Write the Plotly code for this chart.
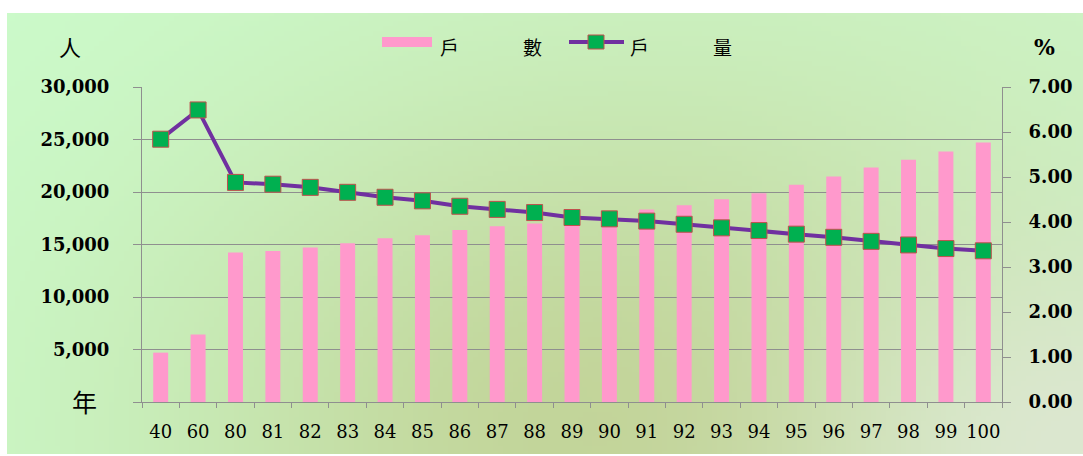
import base64
import struct
import zlib

import numpy as np
import plotly.graph_objects as go

# ---------------- data ----------------
years = ["40", "60", "80", "81", "82", "83", "84", "85", "86", "87", "88", "89",
         "90", "91", "92", "93", "94", "95", "96", "97", "98", "99", "100"]
households = [4700, 6420, 14230, 14390, 14710, 15130, 15600, 15890, 16370, 16750,
              17010, 17400, 17850, 18340, 18750, 19320, 19890, 20680, 21470, 22330,
              23070, 23860, 24720]
household_size = [5.84, 6.49, 4.88, 4.84, 4.77, 4.66, 4.55, 4.47, 4.35, 4.28, 4.21,
                  4.10, 4.07, 4.02, 3.95, 3.87, 3.81, 3.73, 3.66, 3.57, 3.49, 3.41, 3.36]
left_ticks = [0, 5000, 10000, 15000, 20000, 25000, 30000]
left_labels = ["", "5,000", "10,000", "15,000", "20,000", "25,000", "30,000"]
right_ticks = [0, 1, 2, 3, 4, 5, 6, 7]
right_labels = ["0.00", "1.00", "2.00", "3.00", "4.00", "5.00", "6.00", "7.00"]

# ---------------- geometry ----------------
W, H = 1083, 456
L, R, T, B = 142, 1002, 87, 402


def px(x):
    return (x - L) / (R - L)


def py(y):
    return (B - y) / (B - T)


# ---------------- gradient background (png) ----------------
def gradient_png(w, h):
    u = np.linspace(0, 1, w)[None, :]
    v = np.linspace(0, 1, h)[:, None]
    top_l = np.array([204, 252, 204], float)
    top_r = np.array([206, 246, 200], float)
    base = top_l[None, None, :] * (1 - u[..., None]) + top_r[None, None, :] * u[..., None]
    base = np.broadcast_to(base, (h, w, 3)).copy()
    inner = np.array([194, 212, 152], float)
    wgt = np.exp(-((u - 0.58) / 0.45) ** 2 - ((v - 0.95) / 0.8) ** 2)[..., None]
    col = base * (1 - wgt) + inner * wgt
    grey = np.array([220, 232, 208], float)
    wg = np.exp(-((u - 1.0) / 0.25) ** 2 - ((v - 1.0) / 0.5) ** 2)[..., None]
    col = col * (1 - wg) + grey * wg
    col = np.clip(col, 0, 255).astype(np.uint8)
    raw = b"".join(b"\x00" + col[i].tobytes() for i in range(h))

    def chunk(tag, data):
        c = struct.pack(">I", len(data)) + tag + data
        return c + struct.pack(">I", zlib.crc32(tag + data) & 0xFFFFFFFF)

    png = b"\x89PNG\r\n\x1a\n"
    png += chunk(b"IHDR", struct.pack(">IIBBBBB", w, h, 8, 2, 0, 0, 0))
    png += chunk(b"IDAT", zlib.compress(raw, 9))
    png += chunk(b"IEND", b"")
    return "data:image/png;base64," + base64.b64encode(png).decode()


bg = gradient_png(216, 88)

# ---------------- figure ----------------
fig = go.Figure()
fig.add_trace(go.Bar(
    x=years, y=households, name="戶　　數", width=0.4,
    marker=dict(color="#ff99cc", line=dict(width=0)), yaxis="y",
))
fig.add_trace(go.Scatter(
    x=years, y=household_size, name="戶　　量", yaxis="y2", mode="lines+markers",
    line=dict(color="#7030a0", width=4),
    marker=dict(symbol="square", size=16, color="#00b050",
                line=dict(color="#c0504d", width=1)),
))

tick_font = dict(family="DejaVu Serif", size=18, color="black", weight="bold")
grid_col = "#8f8f8f"

fig.update_layout(
    width=W, height=H, autosize=False,
    margin=dict(l=L, r=W - R, t=T, b=H - B, pad=0),
    paper_bgcolor="white", plot_bgcolor="rgba(0,0,0,0)",
    showlegend=False, bargap=0.6,
    xaxis=dict(
        type="category", showgrid=False, showline=True, linecolor=grid_col, linewidth=1,
        ticks="outside", ticklen=5, tickcolor=grid_col, tickson="boundaries",
        tickfont=dict(family="DejaVu Serif", size=18, color="black"),
        tickangle=0, ticklabelstandoff=13, range=[-0.5, len(years) - 0.5],
    ),
    yaxis=dict(
        range=[0, 30000], tickvals=left_ticks, ticktext=left_labels,
        showgrid=True, gridcolor=grid_col, gridwidth=1, zeroline=False,
        showline=True, linecolor=grid_col, linewidth=1,
        ticks="outside", ticklen=8, tickcolor=grid_col,
        tickfont=tick_font, ticklabelstandoff=20,
    ),
    yaxis2=dict(
        range=[0, 7], tickvals=right_ticks, ticktext=right_labels, overlaying="y",
        side="right", showgrid=False, zeroline=False,
        showline=True, linecolor=grid_col, linewidth=1,
        ticks="outside", ticklen=8, tickcolor=grid_col,
        tickfont=tick_font, ticklabelstandoff=14,
    ),
    images=[dict(
        source=bg, xref="paper", yref="paper", x=px(7), y=py(13),
        sizex=(W - 7) / (R - L), sizey=(454 - 13) / (B - T),
        xanchor="left", yanchor="top", sizing="stretch", layer="below",
    )],
)

# custom legend
fig.add_shape(type="rect", xref="paper", yref="paper",
              x0=px(382), x1=px(432), y0=py(47), y1=py(37),
              fillcolor="#ff99cc", line=dict(width=0))
fig.add_shape(type="line", xref="paper", yref="paper",
              x0=px(569), x1=px(624), y0=py(42), y1=py(42),
              line=dict(color="#7030a0", width=4))
fig.add_shape(type="rect", xref="paper", yref="paper",
              x0=px(588), x1=px(604), y0=py(49), y1=py(35),
              fillcolor="#00b050", line=dict(color="#c0504d", width=1))

cjk = "Noto Sans CJK TC"
texts = [
    ("戶", 449, 46, 19, cjk),
    ("數", 532, 46, 19, cjk),
    ("戶", 639, 46, 19, cjk),
    ("量", 722, 46, 19, cjk),
    ("人", 70, 46, 22, cjk),
    ("年", 84, 401, 25, cjk),
    ("%", 1044, 47, 22, "DejaVu Serif"),
]
for t, x, y, s, fam in texts:
    fig.add_annotation(text=t, xref="paper", yref="paper", x=px(x), y=py(y),
                       xanchor="center", yanchor="middle", showarrow=False,
                       font=dict(family=fam, size=s, color="black",
                                 weight="bold" if fam != cjk else "normal"))

fig.write_html("out.html", config={"displayModeBar": False},
               post_script="document.body.style.margin='0';document.body.style.overflow='hidden';")
